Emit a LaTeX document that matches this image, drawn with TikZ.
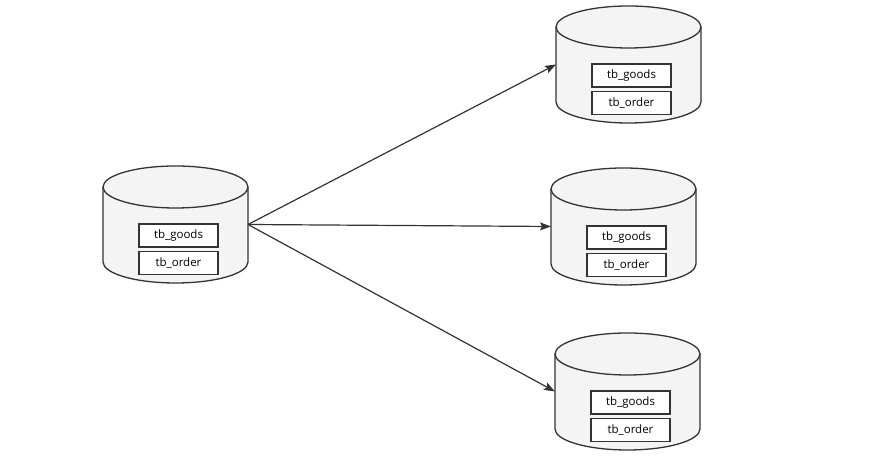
\documentclass[tikz,border=0pt]{standalone}
\usepackage{fontspec}
\setsansfont{Open Sans}
\usetikzlibrary{arrows.meta,positioning}
\definecolor{dbfill}{HTML}{F4F4F4}
\definecolor{dbline}{HTML}{333333}
\tikzset{
  db/.style={minimum width=145pt, minimum height=117pt, inner sep=0pt, outer sep=0pt},
  dbbody/.style={draw=dbline, fill=dbfill, line width=1.3pt},
  tbl/.style={draw=dbline, fill=white, line width=1.3pt, minimum width=79pt,
    minimum height=23pt, inner sep=0pt, font=\sffamily\fontsize{11.5}{13}\selectfont},
  flow/.style={draw=dbline, line width=1.2pt, -{Stealth[length=11pt,width=8pt,inset=2pt]}}
}
% cylinder outline around a db node
\newcommand{\dbdraw}[1]{%
  \path[dbbody] ([yshift=-21pt]#1.north west) -- ([yshift=21pt]#1.south west)
    arc[start angle=180, end angle=360, x radius=72.5pt, y radius=21pt]
    -- ([yshift=-21pt]#1.north east)
    arc[start angle=0, end angle=180, x radius=72.5pt, y radius=21pt] -- cycle;
  \draw[dbbody, fill=none] ([yshift=-21pt]#1.north west)
    arc[start angle=180, end angle=360, x radius=72.5pt, y radius=21pt];
}
\begin{document}
\begin{tikzpicture}[x=1pt,y=1pt]
\useasboundingbox (0,0) rectangle (879,457);
% source database
\node[db] (src) at (175.5,232.5) {};
\dbdraw{src}
\node[tbl] (src1) at ([xshift=3pt,yshift=-11pt]src.center) {tb\_goods};
\node[tbl, below=3pt of src1] (src2) {tb\_order};
% target databases
\node[db] (dbA) at (628.5,392.5) {};
\dbdraw{dbA}
\node[tbl] (dbA1) at ([xshift=3pt,yshift=-11pt]dbA.center) {tb\_goods};
\node[tbl, below=3pt of dbA1] (dbA2) {tb\_order};
\node[db] (dbB) at (623.5,230.5) {};
\dbdraw{dbB}
\node[tbl] (dbB1) at ([xshift=3pt,yshift=-11pt]dbB.center) {tb\_goods};
\node[tbl, below=3pt of dbB1] (dbB2) {tb\_order};
\node[db] (dbC) at (627.5,65.5) {};
\dbdraw{dbC}
\node[tbl] (dbC1) at ([xshift=3pt,yshift=-11pt]dbC.center) {tb\_goods};
\node[tbl, below=3pt of dbC1] (dbC2) {tb\_order};
% copies
\draw[flow] (src.east) -- (dbA.west);
\draw[flow] (src.east) -- (dbB.west);
\draw[flow] (src.east) -- (dbC.west);
\end{tikzpicture}
\end{document}
